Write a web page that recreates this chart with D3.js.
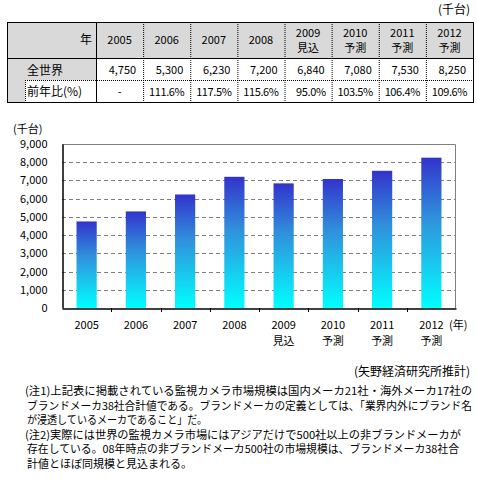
<!DOCTYPE html>
<html>
<head>
<meta charset="utf-8">
<script src="https://cdn.jsdelivr.net/npm/d3@7"></script>
<style>
  body { margin: 0; background: #fff; }
  svg { display: block; font-family: "Noto Sans CJK JP", sans-serif; }
</style>
</head>
<body>
<div id="chart"></div>
<script>
const years = ['2005', '2006', '2007', '2008', '2009', '2010', '2011', '2012'];
const subLabels = ['', '', '', '', '見込', '予測', '予測', '予測'];
const values = [4750, 5300, 6230, 7200, 6840, 7080, 7530, 8250];
const yoy = ['-', '111.6%', '117.5%', '115.6%', '95.0%', '103.5%', '106.4%', '109.6%'];
const yTicks = [0, 1000, 2000, 3000, 4000, 5000, 6000, 7000, 8000, 9000];
const notes = [
  '(注1)上記表に掲載されている監視カメラ市場規模は国内メーカ21社・海外メーカ17社の',
  'ブランドメーカ38社合計値である。ブランドメーカの定義としては、「業界内外にブランド名',
  'が浸透しているメーカであること」だ。',
  '(注2)実際には世界の監視カメラ市場にはアジアだけで500社以上の非ブランドメーカが',
  '存在している。08年時点の非ブランドメーカ500社の市場規模は、ブランドメーカ38社合',
  '計値とほぼ同規模と見込まれる。'
];
const noteWidths = [447, 445, 180, 436, 432, 165];

const width = 477;
const height = 482;
const fmt = d3.format(',');

const svg = d3.select('#chart')
  .append('svg')
  .attr('width', width)
  .attr('height', height);

// ---- table ----
const tbl = { left: 7, right: 473, top: 22, h1: 58, h2: 80, bottom: 102, firstCol: 96 };
const colX = d3.scaleBand()
  .domain(d3.range(years.length))
  .range([tbl.firstCol, tbl.right]);

svg.append('text')
  .attr('x', 470).attr('y', 14)
  .attr('text-anchor', 'end')
  .attr('font-size', 12)
  .text('(千台)');

const t = svg.append('g');
t.append('rect').attr('x', tbl.left).attr('y', tbl.top)
  .attr('width', tbl.right - tbl.left).attr('height', tbl.h1 - tbl.top).attr('fill', '#d9d9d9');
t.append('rect').attr('x', tbl.left).attr('y', tbl.h1)
  .attr('width', tbl.firstCol - tbl.left).attr('height', tbl.h2 - tbl.h1).attr('fill', '#d9d9d9');
t.append('rect').attr('x', tbl.left).attr('y', tbl.h2)
  .attr('width', 25 - tbl.left).attr('height', tbl.bottom - tbl.h2).attr('fill', '#d9d9d9');

// dotted inner lines
t.selectAll('line.vd')
  .data(d3.range(1, years.length))
  .join('line')
  .attr('x1', i => colX(i) + 0.5).attr('x2', i => colX(i) + 0.5)
  .attr('y1', tbl.top).attr('y2', tbl.bottom)
  .attr('stroke', '#000').attr('stroke-dasharray', '1 1');
t.append('line')
  .attr('x1', 25).attr('x2', tbl.right).attr('y1', tbl.h2 + 0.5).attr('y2', tbl.h2 + 0.5)
  .attr('stroke', '#000').attr('stroke-dasharray', '1 1');
t.append('line')
  .attr('x1', 25.5).attr('x2', 25.5).attr('y1', tbl.h2).attr('y2', tbl.bottom)
  .attr('stroke', '#000').attr('stroke-dasharray', '1 1');
// solid lines
t.append('line')
  .attr('x1', tbl.left).attr('x2', tbl.right).attr('y1', tbl.h1 + 0.5).attr('y2', tbl.h1 + 0.5)
  .attr('stroke', '#000');
t.append('line')
  .attr('x1', tbl.firstCol + 0.5).attr('x2', tbl.firstCol + 0.5).attr('y1', tbl.top).attr('y2', tbl.bottom)
  .attr('stroke', '#000');
t.append('rect')
  .attr('x', tbl.left + 0.5).attr('y', tbl.top + 0.5)
  .attr('width', tbl.right - tbl.left).attr('height', tbl.bottom - tbl.top)
  .attr('fill', 'none').attr('stroke', '#000');

t.append('text').attr('x', 92).attr('y', 44).attr('text-anchor', 'end')
  .attr('font-size', 12).text('年');
t.append('text').attr('x', 27).attr('y', 75).attr('font-size', 12).text('全世界');
t.append('text').attr('x', 27).attr('y', 96).attr('font-size', 12).text('前年比(%)');

const head = t.selectAll('g.head')
  .data(years)
  .join('g')
  .attr('transform', (d, i) => `translate(${colX(i) + colX.bandwidth() / 2},0)`)
  .attr('font-size', 11)
  .attr('text-anchor', 'middle');
head.append('text')
  .attr('y', (d, i) => subLabels[i] ? 37 : 44)
  .text(d => d);
head.append('text')
  .attr('y', 52)
  .text((d, i) => subLabels[i]);

t.selectAll('text.val')
  .data(values)
  .join('text')
  .attr('x', (d, i) => colX(i) + colX.bandwidth() - 7)
  .attr('y', 74)
  .attr('text-anchor', 'end')
  .attr('font-size', 11)
  .text(d => fmt(d));

t.selectAll('text.yoy')
  .data(yoy)
  .join('text')
  .attr('x', (d, i) => d === '-' ? colX(i) + colX.bandwidth() / 2 : colX(i) + colX.bandwidth() - 6)
  .attr('y', 96)
  .attr('text-anchor', d => d === '-' ? 'middle' : 'end')
  .attr('font-size', 11)
  .attr('letter-spacing', -0.4)
  .text(d => d);

// ---- bar chart ----
const margin = { top: 144, bottom: 308, left: 62, right: 456 };

const x = d3.scaleBand()
  .domain(d3.range(values.length))
  .range([margin.left, margin.right])
  .paddingInner(0.59)
  .paddingOuter(0.295);

const y = d3.scaleLinear()
  .domain([0, 9000])
  .range([margin.bottom, margin.top]);

const defs = svg.append('defs');
const grad = defs.append('linearGradient')
  .attr('id', 'barGrad')
  .attr('x1', 0).attr('y1', 0).attr('x2', 0).attr('y2', 1);
grad.append('stop').attr('offset', '0%').attr('stop-color', '#3333cc');
grad.append('stop').attr('offset', '40%').attr('stop-color', '#3090dc');
grad.append('stop').attr('offset', '100%').attr('stop-color', '#00ffff');

// gridlines
svg.append('g')
  .selectAll('line')
  .data(yTicks.filter(d => d > 0 && d < 9000))
  .join('line')
  .attr('x1', margin.left).attr('x2', margin.right)
  .attr('y1', d => Math.round(y(d)) + 0.5).attr('y2', d => Math.round(y(d)) + 0.5)
  .attr('stroke', '#808080')
  .attr('stroke-dasharray', '4 3');

// plot frame (top and right)
svg.append('path')
  .attr('d', `M${margin.left},${margin.top + 0.5}H${margin.right - 0.5}V${margin.bottom}`)
  .attr('fill', 'none')
  .attr('stroke', '#808080');

svg.append('g')
  .selectAll('rect')
  .data(values)
  .join('rect')
  .attr('x', (d, i) => x(i))
  .attr('y', d => y(d))
  .attr('width', x.bandwidth())
  .attr('height', d => y(0) - y(d))
  .attr('fill', 'url(#barGrad)');

// y axis
const yAxis = svg.append('g')
  .attr('transform', `translate(${margin.left + 0.5},0)`)
  .call(d3.axisLeft(y).tickValues(yTicks).tickFormat(fmt).tickSize(0).tickPadding(15));
yAxis.select('.domain').attr('stroke', '#000').attr('stroke-width', 1.5);
yAxis.selectAll('text').attr('font-size', 11).attr('fill', '#000')
  .attr('font-family', '"Noto Sans CJK JP", sans-serif');

// x axis
const xAxis = svg.append('g')
  .attr('transform', `translate(0,${margin.bottom + 0.5})`)
  .call(d3.axisBottom(x).tickSize(0).tickFormat(''));
xAxis.select('.domain').attr('stroke', '#000').attr('stroke-width', 1.5);

const step = x.step();
svg.append('g')
  .selectAll('line')
  .data(d3.range(1, values.length))
  .join('line')
  .attr('x1', i => Math.round(x(i) - (step - x.bandwidth()) / 2) + 0.5)
  .attr('x2', i => Math.round(x(i) - (step - x.bandwidth()) / 2) + 0.5)
  .attr('y1', margin.bottom).attr('y2', margin.bottom + 4)
  .attr('stroke', '#000');

const xl = svg.append('g')
  .selectAll('g')
  .data(years)
  .join('g')
  .attr('transform', (d, i) => `translate(${x(i) + x.bandwidth() / 2},0)`)
  .attr('text-anchor', 'middle')
  .attr('font-size', 11);
xl.append('text').attr('y', 329).text(d => d);
xl.append('text').attr('y', 345).text((d, i) => subLabels[i]);

svg.append('text').attr('x', 449).attr('y', 329).attr('font-size', 11).text('(年)');
svg.append('text').attr('x', 13).attr('y', 133).attr('font-size', 11).text('(千台)');

// ---- source & notes ----
svg.append('text')
  .attr('x', 470).attr('y', 376)
  .attr('text-anchor', 'end')
  .attr('font-size', 12)
  .text('(矢野経済研究所推計)');

svg.append('g')
  .selectAll('text')
  .data(notes)
  .join('text')
  .attr('x', (d, i) => i === 0 || i === 3 ? 25 : 27)
  .attr('y', (d, i) => 395 + i * 14.6)
  .attr('font-size', 11)
  .attr('textLength', (d, i) => noteWidths[i])
  .attr('lengthAdjust', 'spacingAndGlyphs')
  .text(d => d);
</script>
</body>
</html>
